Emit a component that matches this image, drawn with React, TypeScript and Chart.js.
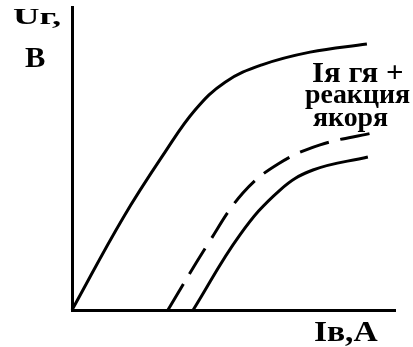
import React, { useEffect, useRef } from "react";
import { Chart, registerables } from "chart.js";

Chart.register(...registerables);

// Field current (x) vs generator voltage (y), arbitrary units 0..10
const noLoadX = [0, 1.58, 2.88, 3.81, 4.74, 5.88, 7.37, 9.13];
const noLoadY = [0, 3.04, 5.21, 6.6, 7.52, 8.09, 8.51, 8.78];

const armDropX = [2.97, 4.21, 5.29, 6.38, 7.68, 9.29];
const armDropY = [0, 2.18, 3.86, 4.82, 5.45, 5.84];

const reactionX = [3.75, 5.2, 6.44, 7.46, 9.16];
const reactionY = [0, 2.48, 3.96, 4.62, 5.05];

const xMax = 10;
const yMax = 10;

// Texts
const yTitle1 = "Uг,";
const yTitle2 = "В";
const xTitle = "Iв,А";
const curveLabel1 = "Iя гя +";
const curveLabel2 = "реакция";
const curveLabel3 = "якоря";

// Placement of the texts (ink box left, baseline, font size, ink width)
const textLayout = [
  { text: yTitle1, left: 13, baseline: 24, size: 23, width: 47 },
  { text: yTitle2, left: 25, baseline: 67, size: 29, width: 20 },
  { text: curveLabel1, left: 312, baseline: 82, size: 29, width: 91 },
  { text: curveLabel2, left: 305, baseline: 103, size: 28, width: 105 },
  { text: curveLabel3, left: 313, baseline: 126, size: 28, width: 75 },
  { text: xTitle, left: 315, baseline: 341, size: 30, width: 63 },
];

const toPoints = (xs: number[], ys: number[]) => xs.map((x, i) => ({ x, y: ys[i] }));

const textPlugin = {
  id: "annotText",
  afterDraw(chart: any) {
    const ctx = chart.ctx as CanvasRenderingContext2D;
    for (const t of textLayout) {
      ctx.save();
      ctx.font = `bold ${t.size}px "Liberation Serif", "Times New Roman", serif`;
      ctx.fillStyle = "#000";
      ctx.textAlign = "left";
      ctx.textBaseline = "alphabetic";
      const m = ctx.measureText(t.text);
      const ink = m.actualBoundingBoxLeft + m.actualBoundingBoxRight;
      const sx = ink > 0 ? t.width / ink : 1;
      ctx.translate(t.left, t.baseline);
      ctx.scale(sx, 1);
      ctx.fillText(t.text, m.actualBoundingBoxLeft, 0);
      ctx.restore();
    }
  },
};

export default function App() {
  const ref = useRef<HTMLCanvasElement>(null);

  useEffect(() => {
    document.body.style.margin = "0";
    const canvas = ref.current;
    if (!canvas) return;
    const lineStyle = {
      borderColor: "#000",
      borderWidth: 3,
      pointRadius: 0,
      fill: false,
      tension: 0.4,
      clip: false as any,
    };
    const chart = new Chart(canvas, {
      type: "line",
      data: {
        datasets: [
          { ...lineStyle, label: "no-load", data: toPoints(noLoadX, noLoadY) },
          { ...lineStyle, label: "armature drop", data: toPoints(armDropX, armDropY), borderDash: [30, 12] },
          { ...lineStyle, label: "armature reaction", data: toPoints(reactionX, reactionY) },
        ],
      },
      options: {
        animation: false,
        responsive: false,
        maintainAspectRatio: false,
        layout: { padding: { left: 72, top: 7, right: 18, bottom: 37 } },
        plugins: {
          legend: { display: false },
          tooltip: { enabled: false },
        },
        scales: {
          x: {
            type: "linear",
            min: 0,
            max: xMax,
            grid: { display: false, drawTicks: false },
            ticks: { display: false },
            border: { display: true, color: "#000", width: 3 },
          },
          y: {
            type: "linear",
            min: 0,
            max: yMax,
            grid: { display: false, drawTicks: false },
            ticks: { display: false },
            border: { display: true, color: "#000", width: 3 },
          },
        },
      },
      plugins: [textPlugin],
    });
    return () => chart.destroy();
  }, []);

  return <canvas ref={ref} width={413} height={347} style={{ display: "block" }} />;
}
